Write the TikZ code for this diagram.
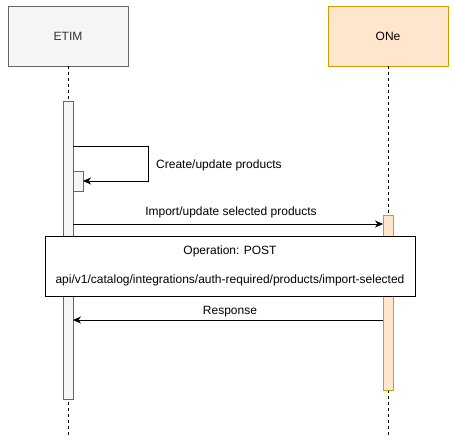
\documentclass[tikz,border=0pt]{standalone}
\usepackage{fontspec}
\setmainfont{Liberation Sans}
\usetikzlibrary{arrows.meta}
\definecolor{gfill}{HTML}{F5F5F5}
\definecolor{gline}{HTML}{666666}
\definecolor{ofill}{HTML}{FFE6CC}
\definecolor{oline}{HTML}{D79B00}
\definecolor{txt}{HTML}{333333}
\tikzset{
  fnt/.style={font=\fontsize{12pt}{14pt}\selectfont},
  actorg/.style={draw=gline, fill=gfill, minimum width=120pt, minimum height=60pt, inner sep=0pt, text=txt, fnt},
  actoro/.style={draw=oline, fill=ofill, minimum width=120pt, minimum height=60pt, inner sep=0pt, fnt},
  lifeline/.style={dashed, dash pattern=on 3pt off 3pt, line width=0.8pt},
  actg/.style={draw=gline, fill=gfill, line width=0.8pt},
  acto/.style={draw=oline, fill=ofill, line width=0.8pt},
  msg/.style={-{Stealth[length=8pt,width=7pt,inset=2.5pt]}, line width=0.8pt},
  lbl/.style={fnt, inner sep=0pt},
}
\begin{document}
\begin{tikzpicture}[x=1pt,y=-1pt]
\useasboundingbox (0,0) rectangle (454,444);
% actors
\node[actorg] (etim) at (68,36) {ETIM};
\node[actoro] (one) at (388,36) {ONe};
% lifelines
\coordinate (etimEnd) at (68,437);
\coordinate (oneEnd) at (388,437);
\draw[lifeline] (etim.south) -- (etimEnd);
\draw[lifeline] (one.south) -- (oneEnd);
% activations
\draw[actg] (63,101) rectangle (73,399);
\draw[acto] (383,215) rectangle (393,390);
\draw[actg] (73,171) rectangle (83,191);
% self call
\coordinate (s0) at (73,146);
\coordinate (s1) at (148,146);
\coordinate (s2) at (148,181);
\coordinate (s3) at (83,181);
\draw[msg] (s0) -- (s1) -- (s2) -- (s3);
\node[lbl, anchor=west] (lself) at (156,165.5) {Create/update products};
% import
\coordinate (i0) at (73,224);
\coordinate (i1) at (383,224);
\draw[msg] (i0) -- (i1);
\node[lbl] (limp) at (231,212) {Import/update selected products};
% operation box
\node[draw, fill=white, line width=0.8pt, minimum width=370pt, minimum height=60pt, inner sep=0pt, align=center, fnt] (op) at (230,266) {Operation: POST\\[15pt]api/v1/catalog/integrations/auth-required/products/import-selected};
% response
\coordinate (r0) at (383,320);
\coordinate (r1) at (73,320);
\draw[msg] (r0) -- (r1);
\node[lbl] (lresp) at (230,311.5) {Response};
\end{tikzpicture}
\end{document}
